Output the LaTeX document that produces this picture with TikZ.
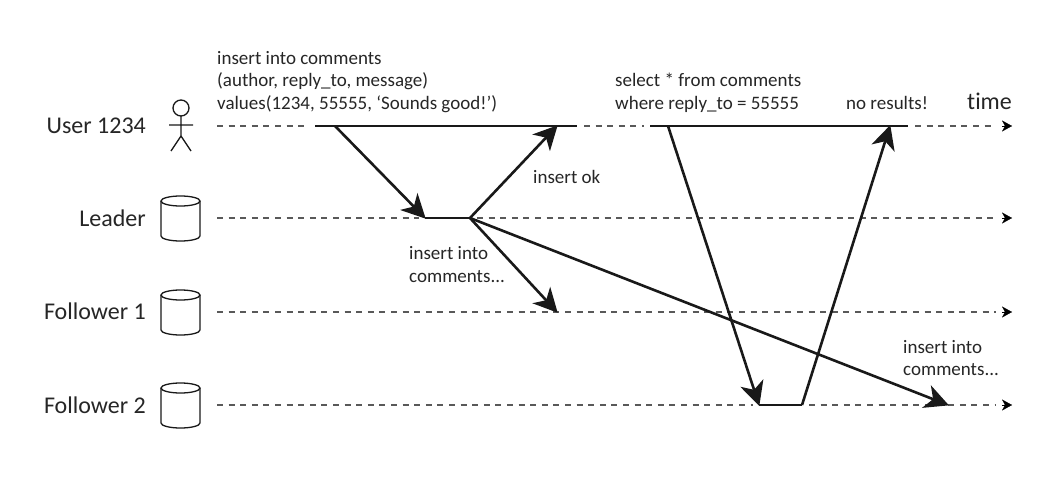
\documentclass[tikz,border=0pt]{standalone}
\usepackage{fontspec}
\setmainfont[Ligatures=NoCommon]{Carlito}
\usetikzlibrary{arrows.meta}
\tikzset{
  lbl/.style={inner sep=0pt,anchor=base west,text=black!85,font=\fontsize{19}{22}\selectfont,align=left},
  who/.style={inner sep=0pt,anchor=base east,text=black!85,font=\fontsize{24}{28}\selectfont},
  timeline/.style={draw=black!65,line width=1.1pt,dash pattern=on 6pt off 5.6pt,shorten >=6pt,shorten <=7pt},
  timeend/.style={draw=black,line width=0.2pt,{-{Stealth[length=10pt,width=11pt,inset=3pt]}}},
  busy/.style={draw=black!90,line width=2.4pt},
  msg/.style={draw=black!90,line width=2.6pt,-{Stealth[length=24pt,width=24pt,inset=7pt]},shorten >=-1pt},
  outline/.style={draw=black!90,line width=1.3pt}
}
\newcommand{\dbcyl}[1]{%
  \draw[outline,fill=white] (161,#1-18) -- (161,#1+17) arc[start angle=180,end angle=0,x radius=19.5,y radius=5] -- (200,#1-18);
  \draw[outline] (180.5,#1-18) ellipse[x radius=19.5,y radius=5];
}
\begin{document}
\begin{tikzpicture}[x=1pt,y=-1pt]
\useasboundingbox (0,0) rectangle (1041,487);
\fill[white] (0,0) rectangle (1041,487);
% timeline coordinates
\foreach \n/\y in {u/126,l/218,a/312,b/405}{
  \coordinate (\n s) at (210,\y);
  \coordinate (\n e) at (1012,\y);
}
\coordinate (u1) at (315,126); \coordinate (u2) at (577,126);
\coordinate (u3) at (650,126); \coordinate (u4) at (908,126);
\coordinate (w1) at (335,126); \coordinate (w2) at (557,126);
\coordinate (r1) at (668,126); \coordinate (r2) at (890,126);
\coordinate (l1) at (425,218); \coordinate (l2) at (470,218);
\coordinate (f1) at (557,312);
\coordinate (g1) at (759,405); \coordinate (g2) at (802,405);
\coordinate (g3) at (948,405);
% dashed timelines
\draw[timeline] (us) -- (u1);
\draw[timeline] (u2) -- (u3);
\draw[timeline] (u4) -- ([xshift=-10pt]ue);
\draw[timeline] (ls) -- (l1);
\draw[timeline] (l2) -- ([xshift=-10pt]le);
\draw[timeline] (as) -- ([xshift=-10pt]ae);
\draw[timeline] (bs) -- (g1);
\draw[timeline] (g2) -- ([xshift=-10pt]be);
\foreach \n in {u,l,a,b}{
  \draw[timeend] ([xshift=-10pt]\n e) -- (\n e);
}
% solid busy segments
\draw[busy] (u1) -- (u2);
\draw[busy] (u3) -- (u4);
\draw[busy] (l1) -- (l2);
\draw[busy] (g1) -- (g2);
% messages
\draw[msg] (w1) -- (l1);
\draw[msg] (l2) -- (w2);
\draw[msg] (l2) -- (f1);
\draw[msg] (l2) -- (g3);
\draw[msg] (r1) -- (g1);
\draw[msg] (g2) -- (r2);
% actor
\draw[outline] (181,108) circle[radius=8];
\draw[outline] (181,116) -- (181,136) (169,125) -- (193,125) (171,151) -- (181,136) -- (191,151);
% databases
\dbcyl{219}
\dbcyl{313}
\dbcyl{406}
% names
\node[who] (user) at (146,133) {User 1234};
\node[who] (leader) at (146,226) {Leader};
\node[who] (fol1) at (146,319) {Follower 1};
\node[who] (fol2) at (146,413) {Follower 2};
% labels
\node[lbl] (q1a) at (217,64) {insert into comments};
\node[lbl] (q1b) at (217,86) {(author, reply\_to, message)};
\node[lbl] (q1c) at (217,109) {values(1234, 55555, ‘Sounds good!’)};
\node[lbl] (ok) at (533,183) {insert ok};
\node[lbl] (ins1a) at (409,259) {insert into};
\node[lbl] (ins1b) at (409,282) {comments...};
\node[lbl] (q2a) at (615,86) {select * from comments};
\node[lbl] (q2b) at (615,109) {where reply\_to = 55555};
\node[lbl] (nores) at (846,109) {no results!};
\node[who,anchor=base west] (time) at (967,109) {time};
\node[lbl] (ins2a) at (903,353) {insert into};
\node[lbl] (ins2b) at (903,375) {comments...};
\end{tikzpicture}
\end{document}
